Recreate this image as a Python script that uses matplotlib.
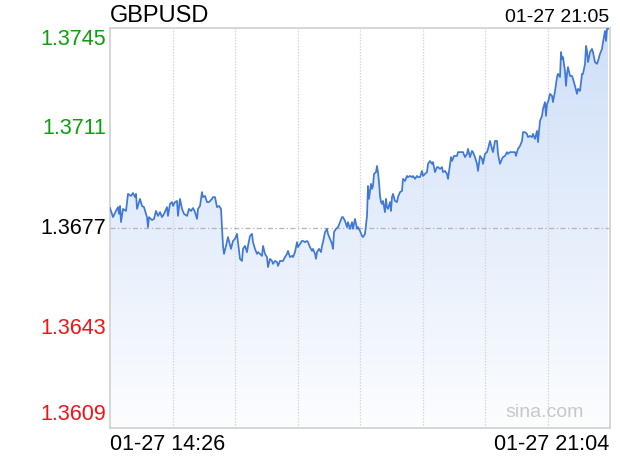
import numpy as np
import matplotlib
matplotlib.use('Agg')
import matplotlib.pyplot as plt
from matplotlib.colors import LinearSegmentedColormap
from matplotlib.patches import Polygon
from matplotlib.transforms import blended_transform_factory, offset_copy

plt.rcParams['font.family'] = ['Liberation Sans', 'DejaVu Sans']

symbol = 'GBPUSD'
time_start = '01-27 14:26'
time_end = '01-27 21:04'
time_now = '01-27 21:05'

# minutes after 14:26
minutes = [0.0, 2.4, 5.6, 6.4, 7.2, 8.0, 8.8, 10.4, 12.8, 14.4, 16.8, 18.4, 20.0, 20.8, 21.6,
           24.0, 25.6, 27.2, 29.6, 30.4, 31.2, 33.6, 35.2, 36.8, 38.4, 40.0, 41.6, 43.2, 45.6,
           46.4, 48.0, 49.6, 50.4, 52.0, 53.6, 54.4, 56.0, 57.6, 59.2, 61.6, 63.2, 64.8, 66.4,
           68.0, 69.6, 70.4, 72.0, 73.6, 74.4, 76.0, 77.6, 79.2, 81.6, 82.4, 84.0, 85.6, 87.2,
           88.8, 89.6, 90.4, 91.2, 92.8, 94.4, 95.2, 96.8, 98.4, 100.0, 101.6, 102.4, 104.0,
           105.6, 106.4, 108.0, 109.6, 110.4, 112.0, 113.6, 114.4, 116.0, 117.6, 118.4, 120.0,
           121.6, 122.4, 124.0, 125.6, 126.4, 128.0, 129.6, 130.4, 132.0, 133.6, 134.4, 136.0,
           137.6, 138.4, 140.0, 141.6, 142.4, 144.0, 145.6, 146.4, 148.0, 149.6, 150.4, 152.0,
           153.6, 154.4, 156.0, 157.6, 158.4, 160.0, 161.6, 162.4, 164.0, 164.8, 165.6, 167.2,
           168.8, 169.6, 170.4, 172.0, 173.6, 174.4, 176.0, 177.6, 178.4, 179.2, 180.8, 182.4,
           184.0, 185.6, 186.4, 188.0, 189.6, 190.4, 192.0, 193.6, 194.4, 196.0, 197.6, 198.4,
           200.0, 201.6, 202.4, 204.0, 205.6, 206.4, 207.2, 208.8, 209.6, 210.4, 211.2, 212.8,
           213.6, 214.4, 215.2, 216.0, 216.8, 217.6, 218.4, 220.0, 220.8, 221.6, 222.4, 224.0,
           224.8, 225.6, 226.4, 228.0, 229.6, 230.4, 232.0, 233.6, 234.4, 236.0, 237.6, 238.4,
           240.0, 241.6, 242.4, 244.0, 245.6, 246.4, 248.0, 249.6, 250.4, 252.0, 253.6, 254.4,
           256.0, 257.6, 258.4, 260.0, 261.6, 262.4, 264.0, 265.6, 266.4, 268.0, 269.6, 270.4,
           272.0, 272.8, 273.6, 275.2, 277.6, 278.4, 280.8, 282.4, 284.0, 285.6, 286.4, 288.0,
           289.6, 290.4, 292.0, 293.6, 294.4, 296.0, 297.6, 298.4, 300.0, 301.6, 302.4, 304.0,
           305.6, 306.4, 308.0, 309.6, 310.4, 312.0, 313.6, 314.4, 316.0, 317.6, 318.4, 320.0,
           322.4, 324.0, 324.8, 325.6, 326.4, 328.0, 329.6, 330.4, 332.0, 333.6, 334.4, 336.0,
           337.6, 338.4, 340.0, 341.6, 342.4, 343.2, 344.0, 345.6, 346.4, 348.0, 348.8, 349.6,
           350.4, 352.0, 353.6, 354.4, 356.0, 357.6, 358.4, 360.0, 360.8, 361.6, 362.4, 364.0,
           364.8, 365.6, 366.4, 368.0, 369.6, 370.4, 372.0, 373.6, 374.4, 376.0, 377.6, 378.4,
           380.0, 380.8, 381.6, 382.4, 384.0, 385.6, 386.4, 388.0, 389.6, 390.4, 392.0, 393.6,
           394.4, 396.0, 396.8, 397.6, 398.4]

prices = [1.36838, 1.36807, 1.36835, 1.36841, 1.36818, 1.36845, 1.36790, 1.36835, 1.36828,
          1.36886, 1.36879, 1.36889, 1.36875, 1.36886, 1.36835, 1.36869, 1.36845, 1.36841,
          1.36807, 1.36773, 1.36807, 1.36797, 1.36801, 1.36828, 1.36811, 1.36824, 1.36807,
          1.36818, 1.36841, 1.36811, 1.36852, 1.36858, 1.36845, 1.36858, 1.36862, 1.36811,
          1.36869, 1.36835, 1.36818, 1.36811, 1.36835, 1.36828, 1.36838, 1.36824, 1.36801,
          1.36835, 1.36845, 1.36892, 1.36875, 1.36879, 1.36858, 1.36858, 1.36869, 1.36875,
          1.36875, 1.36841, 1.36845, 1.36835, 1.36773, 1.36709, 1.36682, 1.36709, 1.36739,
          1.36726, 1.36699, 1.36726, 1.36733, 1.36750, 1.36722, 1.36665, 1.36658, 1.36699,
          1.36709, 1.36688, 1.36709, 1.36743, 1.36750, 1.36722, 1.36699, 1.36682, 1.36688,
          1.36682, 1.36675, 1.36709, 1.36682, 1.36671, 1.36637, 1.36665, 1.36658, 1.36648,
          1.36658, 1.36654, 1.36641, 1.36658, 1.36658, 1.36658, 1.36671, 1.36682, 1.36692,
          1.36671, 1.36675, 1.36671, 1.36688, 1.36722, 1.36705, 1.36716, 1.36726, 1.36726,
          1.36722, 1.36726, 1.36722, 1.36705, 1.36692, 1.36699, 1.36682, 1.36665, 1.36688,
          1.36699, 1.36688, 1.36709, 1.36722, 1.36756, 1.36767, 1.36750, 1.36733, 1.36716,
          1.36699, 1.36756, 1.36767, 1.36773, 1.36790, 1.36807, 1.36807, 1.36794, 1.36773,
          1.36790, 1.36767, 1.36790, 1.36767, 1.36801, 1.36767, 1.36773, 1.36760, 1.36743,
          1.36739, 1.36750, 1.36811, 1.36913, 1.36869, 1.36920, 1.36903, 1.36913, 1.36954,
          1.36960, 1.36981, 1.36960, 1.36926, 1.36879, 1.36858, 1.36852, 1.36862, 1.36824,
          1.36869, 1.36841, 1.36835, 1.36858, 1.36828, 1.36875, 1.36886, 1.36862, 1.36858,
          1.36875, 1.36892, 1.36896, 1.36937, 1.36930, 1.36947, 1.36943, 1.36947, 1.36943,
          1.36947, 1.36937, 1.36947, 1.36943, 1.36943, 1.36964, 1.36947, 1.36954, 1.36960,
          1.36988, 1.36998, 1.36988, 1.36994, 1.36960, 1.36977, 1.36977, 1.36971, 1.36977,
          1.36960, 1.36964, 1.36954, 1.36937, 1.36988, 1.37011, 1.36998, 1.37015, 1.37015,
          1.37028, 1.37028, 1.37028, 1.37011, 1.37022, 1.37039, 1.37011, 1.37032, 1.37028,
          1.37011, 1.36988, 1.36964, 1.37015, 1.37005, 1.36988, 1.37022, 1.37028, 1.37039,
          1.37066, 1.37039, 1.37028, 1.37066, 1.37066, 1.37022, 1.36988, 1.37005, 1.37011,
          1.37015, 1.37028, 1.37022, 1.37028, 1.37028, 1.37028, 1.37015, 1.37028, 1.37039,
          1.37049, 1.37066, 1.37096, 1.37096, 1.37090, 1.37079, 1.37083, 1.37079, 1.37090,
          1.37073, 1.37100, 1.37062, 1.37100, 1.37134, 1.37151, 1.37175, 1.37198, 1.37151,
          1.37192, 1.37198, 1.37226, 1.37219, 1.37198, 1.37236, 1.37283, 1.37294, 1.37283,
          1.37368, 1.37345, 1.37351, 1.37304, 1.37253, 1.37294, 1.37317, 1.37287, 1.37287,
          1.37277, 1.37253, 1.37226, 1.37243, 1.37236, 1.37294, 1.37294, 1.37328, 1.37389,
          1.37372, 1.37334, 1.37368, 1.37379, 1.37368, 1.37334, 1.37328, 1.37338, 1.37362,
          1.37379, 1.37402, 1.37440, 1.37406, 1.37447, 1.37447]

y_ticks = [1.3745, 1.3711, 1.3677, 1.3643, 1.3609]
y_tick_colors = ['#0c9e0c', '#0c9e0c', '#000000', '#f01414', '#f01414']

fig = plt.figure(figsize=(6.2, 4.6), dpi=100)
ax = fig.add_axes([110 / 620, 31 / 460, 500 / 620, 400 / 460])
ax.set_xlim(0, 400)
ax.set_ylim(1.3609, 1.3745)

# gradient area under the line
cmap = LinearSegmentedColormap.from_list('fill', ['#fcfdff', '#cfdff8'])
grad = np.linspace(0, 1, 256).reshape(-1, 1)
im = ax.imshow(grad, cmap=cmap, origin='lower', aspect='auto',
               extent=[0, 400, 1.3609, 1.3745], zorder=1)
poly = Polygon(list(zip(minutes, prices)) + [(minutes[-1], 1.3609), (minutes[0], 1.3609)],
               closed=True, facecolor='none', edgecolor='none')
ax.add_patch(poly)
im.set_clip_path(poly)

ax.plot(minutes, prices, color='#3f78d6', lw=1.25, zorder=3)

# grid
for gx in range(50, 400, 50):
    ax.axvline(gx, color='#d6d6d6', lw=0.9, ls=(0, (1.2, 1.2)), zorder=2)
ax.axhline(1.3677, color='#b4b4b4', lw=0.9, ls=(0, (4, 2, 1, 2)), zorder=2)

for s in ax.spines.values():
    s.set_color('#d0d0d0')
    s.set_linewidth(1.2)

ax.set_xticks([])
ax.set_yticks([])

# y labels
trans = blended_transform_factory(ax.transAxes, ax.transData)
offsets = [-11, 0, 0, 0, 14]
for v, c, off in zip(y_ticks, y_tick_colors, offsets):
    t = offset_copy(trans, fig=fig, x=-4, y=off, units='dots')
    ax.text(0, v, '%.4f' % v, transform=t, ha='right', va='center',
            fontsize=15.5, color=c)

fig.text(110 / 620, 1 - 16 / 460, symbol, fontsize=17, ha='left', va='center')
fig.text(609 / 620, 1 - 17 / 460, time_now, fontsize=14, ha='right', va='center')
fig.text(110 / 620, 1 - 445 / 460, time_start, fontsize=15.5, ha='left', va='center')
fig.text(609 / 620, 1 - 445 / 460, time_end, fontsize=15.5, ha='right', va='center')
fig.text(545 / 620, 1 - 413 / 460, 'sina.com', fontsize=14, ha='center', va='center',
         color='#c8c8c8')

fig.savefig('out.png', dpi=100)
